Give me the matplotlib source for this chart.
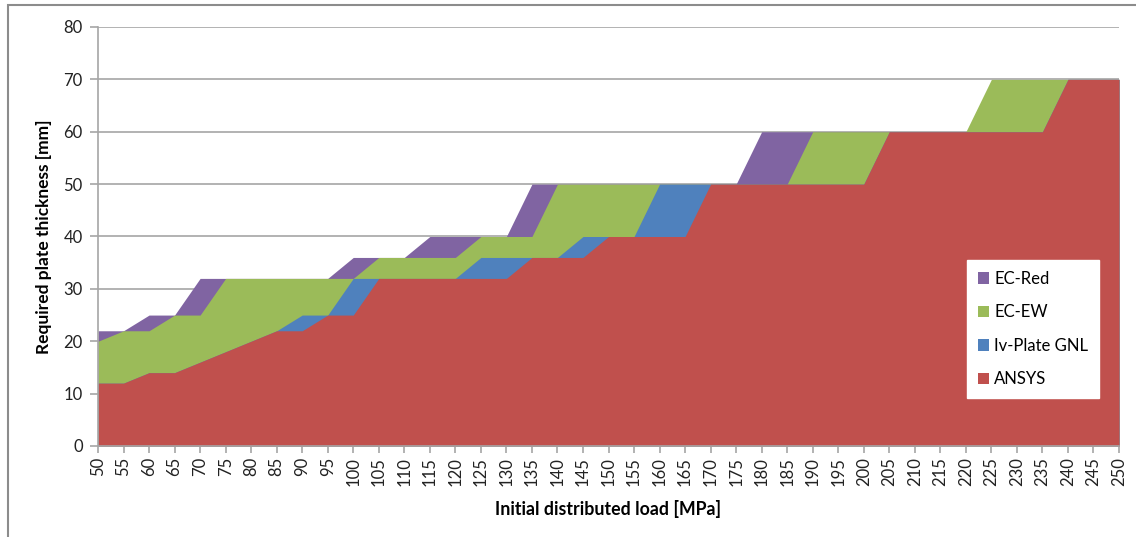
# Required plate thickness vs. initial distributed load - overlapping area chart
import numpy as np
import matplotlib.pyplot as plt
from matplotlib.patches import Rectangle

plt.rcParams['font.family'] = ['Lato', 'DejaVu Sans']

# Data
load = list(range(50, 251, 5))   # Initial distributed load [MPa]

ec_red = [22, 22, 25, 25, 32, 32, 32, 32, 32, 32, 36, 36, 36, 40, 40, 40, 40, 50, 50, 50,
          50, 50, 50, 50, 50, 50, 60, 60, 60, 60, 60, 60, 60, 60, 60, 60, 60, 60, 70, 70, 70]
ec_ew = [20, 22, 22, 25, 25, 32, 32, 32, 32, 32, 32, 36, 36, 36, 36, 40, 40, 40, 50, 50,
         50, 50, 50, 50, 50, 50, 50, 50, 60, 60, 60, 60, 60, 60, 60, 70, 70, 70, 70, 70, 70]
iv_plate = [12, 12, 14, 14, 16, 18, 20, 22, 25, 25, 32, 32, 32, 32, 32, 36, 36, 36, 36, 40,
            40, 40, 50, 50, 50, 50, 50, 50, 50, 50, 50, 60, 60, 60, 60, 60, 60, 60, 70, 70, 70]
ansys = [12, 12, 14, 14, 16, 18, 20, 22, 22, 25, 25, 32, 32, 32, 32, 32, 32, 36, 36, 36,
         40, 40, 40, 40, 50, 50, 50, 50, 50, 50, 50, 60, 60, 60, 60, 60, 60, 60, 70, 70, 70]

series = [('EC-Red', ec_red, '#8064A2'),
          ('EC-EW', ec_ew, '#9BBB59'),
          ('Iv-Plate GNL', iv_plate, '#4F81BD'),
          ('ANSYS', ansys, '#C0504D')]

fig = plt.figure(figsize=(11.36, 5.37), dpi=100)
ax = fig.add_axes([98 / 1136, 1 - 446 / 537, (1119 - 98) / 1136, (446 - 27) / 537])

# back to front, like the Excel chart
for i, (name, vals, col) in enumerate(series):
    ax.fill_between(load, 0, vals, color=col, linewidth=0, label=name, zorder=2 + i)

ax.set_xlim(50, 250)
ax.set_ylim(0, 80)
ax.set_xticks(load)
ax.set_xticklabels([str(v) for v in load], rotation=90)
ax.set_yticks(range(0, 81, 10))
ax.yaxis.grid(True, color='#A6A6A6', linewidth=1.2, zorder=0)
ax.set_axisbelow(True)

for s in ['top', 'right']:
    ax.spines[s].set_visible(False)
for s in ['left', 'bottom']:
    ax.spines[s].set_color('#A6A6A6')
    ax.spines[s].set_linewidth(1.2)
    ax.spines[s].set_zorder(10)

ax.tick_params(axis='y', direction='out', length=6, width=1.2, color='#A6A6A6',
               labelsize=12, pad=5, labelcolor='#222222')
ax.tick_params(axis='x', direction='out', length=5, width=1.2, color='#A6A6A6',
               labelsize=12, pad=3, labelcolor='#222222')

ax.set_xlabel('Initial distributed load [MPa]', fontsize=12.8, fontweight='bold', labelpad=10)
ax.set_ylabel('Required plate thickness [mm]', fontsize=12.5, fontweight='bold', labelpad=8)

leg = ax.legend(loc='upper left', bbox_to_anchor=(0.851, 0.444), fontsize=12,
                frameon=True, fancybox=False, framealpha=1, edgecolor='white',
                handlelength=0.65, handleheight=0.65, handletextpad=0.35,
                labelspacing=1.05, borderpad=0.65, borderaxespad=0)
leg.set_zorder(20)

# outer chart-area border
fig.patches.append(Rectangle((8 / 1136, -0.1), 1.2, 1.1 - 5 / 537, transform=fig.transFigure,
                             fill=False, edgecolor='#8C8C8C', linewidth=1.5))

plt.savefig('out.png', dpi=100)
